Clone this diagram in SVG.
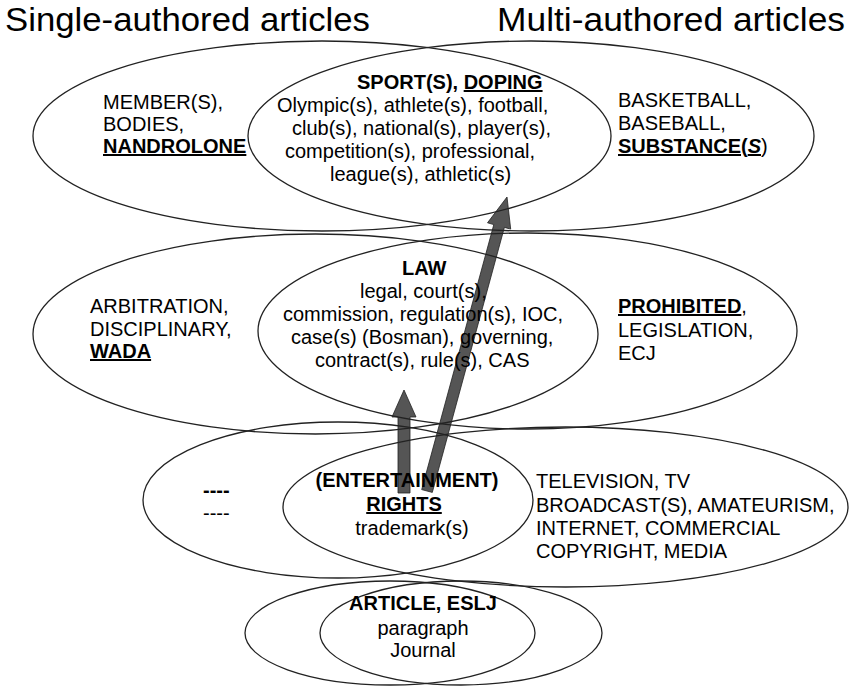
<svg xmlns="http://www.w3.org/2000/svg" width="850" height="687" viewBox="0 0 850 687">
<style>
.e{fill:none;stroke:#222;stroke-width:1.3}
.t{font-family:"Liberation Sans",Arial,sans-serif;font-size:20px;fill:#000}
.b{font-weight:bold}
.u{text-decoration:underline}
.c{text-anchor:middle}
.h{font-family:"Liberation Sans",Arial,sans-serif;font-size:34px;fill:#000}
.ar{fill:#555;stroke:#222;stroke-width:0.8}
</style>
<rect width="850" height="687" fill="#fff"/>
<g id="titles">
<text class="h" x="5" y="31" textLength="365" lengthAdjust="spacingAndGlyphs">Single-authored articles</text>
<text class="h" x="497" y="31" textLength="348" lengthAdjust="spacingAndGlyphs">Multi-authored articles</text>
</g>
<g id="connectors">
<polygon class="ar" points="398,493 398,417 392,417 404,390 416,417 410,417 410,493"/>
<polygon class="ar" points="421.7,489.6 493.8,224.6 487.5,222.8 507,197 510.7,229.1 504.4,227.4 432.3,492.4"/>
</g>
<g id="row1">
<ellipse class="e" cx="322" cy="136" rx="289" ry="95"/>
<ellipse class="e" cx="531" cy="136" rx="283" ry="95"/>
<text class="t" x="103" y="109">MEMBER(S),</text>
<text class="t" x="103" y="131">BODIES,</text>
<text class="t b u" x="103" y="153">NANDROLONE</text>
<text class="t b" x="357" y="89">SPORT(S), <tspan class="u">DOPING</tspan></text>
<text class="t" x="277" y="112">Olympic(s), athlete(s), football,</text>
<text class="t" x="292" y="135">club(s), national(s), player(s),</text>
<text class="t" x="285" y="158">competition(s), professional,</text>
<text class="t" x="330" y="181">league(s), athletic(s)</text>
<text class="t" x="618" y="107">BASKETBALL,</text>
<text class="t" x="618" y="130">BASEBALL,</text>
<text class="t" x="618" y="153"><tspan class="b u">SUBSTANCE(<tspan font-style="italic">S</tspan></tspan>)</text>
</g>
<g id="row2">
<ellipse class="e" cx="315.5" cy="334" rx="282.5" ry="100"/>
<ellipse class="e" cx="527.5" cy="331" rx="269.5" ry="98"/>
<text class="t" x="90" y="313">ARBITRATION,</text>
<text class="t" x="90" y="336">DISCIPLINARY,</text>
<text class="t b u" x="90" y="358">WADA</text>
<text class="t b" x="402" y="275">LAW</text>
<text class="t" x="360" y="298">legal, court(s),</text>
<text class="t" x="283" y="321">commission, regulation(s), IOC,</text>
<text class="t" x="291" y="344">case(s) (Bosman), governing,</text>
<text class="t" x="315" y="367">contract(s), rule(s), CAS</text>
<text class="t" x="618" y="313"><tspan class="b u">PROHIBITED</tspan>,</text>
<text class="t" x="618" y="337">LEGISLATION,</text>
<text class="t" x="618" y="360">ECJ</text>
</g>
<g id="row3">
<ellipse class="e" cx="338" cy="500" rx="195" ry="78"/>
<ellipse class="e" cx="565.5" cy="507" rx="282.5" ry="80"/>
<text class="t b" x="203" y="497">----</text>
<text class="t" x="203" y="520">----</text>
<text class="t b c" x="407" y="487">(ENTERTAINMENT)</text>
<text class="t b u c" x="404" y="511">RIGHTS</text>
<text class="t c" x="412" y="535">trademark(s)</text>
<text class="t" x="536" y="488">TELEVISION, TV</text>
<text class="t" x="536" y="512">BROADCAST(S), AMATEURISM,</text>
<text class="t" x="536" y="535">INTERNET, COMMERCIAL</text>
<text class="t" x="536" y="558">COPYRIGHT, MEDIA</text>
</g>
<g id="row4">
<ellipse class="e" cx="390" cy="633" rx="145" ry="52"/>
<ellipse class="e" cx="461" cy="633" rx="141" ry="52"/>
<text class="t b c" x="423" y="610">ARTICLE, ESLJ</text>
<text class="t c" x="423" y="635">paragraph</text>
<text class="t c" x="423" y="657">Journal</text>
</g>
</svg>
